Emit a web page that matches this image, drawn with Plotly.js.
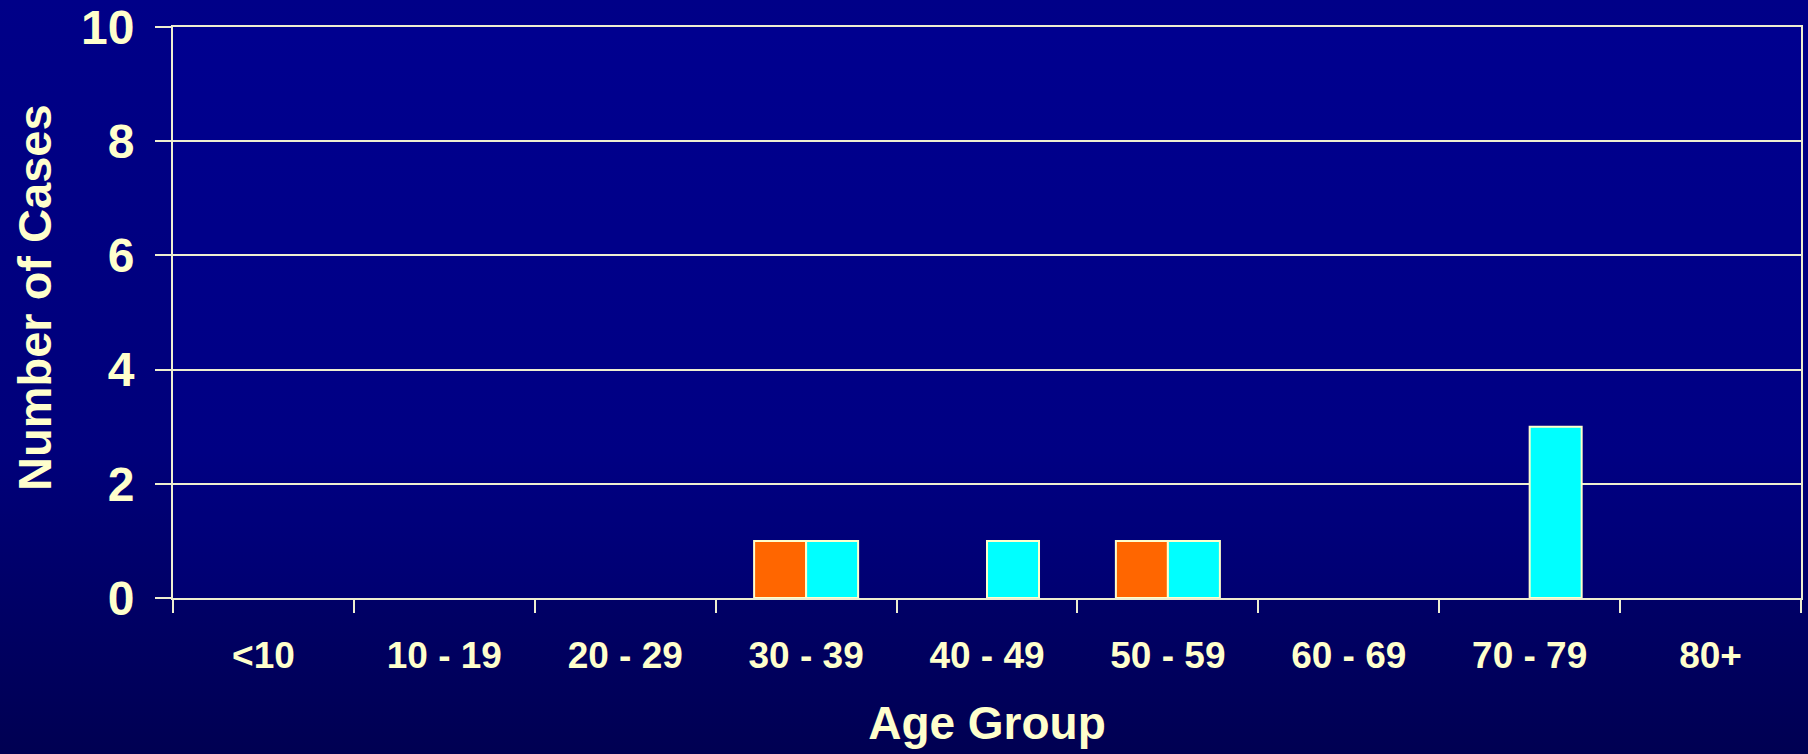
<!DOCTYPE html>
<html>
<head>
<meta charset="utf-8">
<script src="https://cdn.plot.ly/plotly-3.0.1.min.js"></script>
<style>
  html, body { margin: 0; padding: 0; width: 1808px; height: 754px; overflow: hidden; }
  body { background: linear-gradient(to bottom, #000088 0%, #00007a 60%, #000052 100%); }
  #chart { width: 1808px; height: 754px; }
</style>
</head>
<body>
<div id="chart"></div>
<script>
const ageGroups = ['<10', '10 - 19', '20 - 29', '30 - 39', '40 - 49', '50 - 59', '60 - 69', '70 - 79', '80+'];
const seriesOrange = [0, 0, 0, 1, 0, 1, 0, 0, 0];
const seriesCyan = [0, 0, 0, 1, 1, 1, 0, 3, 0];
const yTicks = [0, 2, 4, 6, 8, 10];

const cream = '#FFFFCC';
const lineCol = '#EEEED0';
const outline = v => v.map(val => (val > 0 ? 2 : 0));

const traces = [
  { type: 'bar', x: ageGroups, y: seriesOrange, name: 'Series 1',
    marker: { color: '#FF6600', line: { color: cream, width: outline(seriesOrange) } } },
  { type: 'bar', x: ageGroups, y: seriesCyan, name: 'Series 2',
    marker: { color: '#00FFFF', line: { color: cream, width: outline(seriesCyan) } } }
];

// helpers converting page pixels to plot-area paper fractions (for the rotated title)
function py(px) { return (598 - px) / 571; }
function pxx(px) { return (px - 173) / 1628; }

const layout = {
  width: 1808, height: 754,
  paper_bgcolor: 'rgba(0,0,0,0)',
  plot_bgcolor: 'rgba(0,0,255,0.07)',
  margin: { l: 173, r: 7, t: 27, b: 156 },
  showlegend: false,
  barmode: 'group',
  bargap: 0.425,
  bargroupgap: 0,
  font: { family: 'Liberation Sans, Arial, sans-serif', color: cream, weight: 700 },
  annotations: [{
    text: 'Number of Cases', textangle: -90, showarrow: false,
    xref: 'paper', yref: 'paper', x: pxx(34), y: py(298),
    xanchor: 'center', yanchor: 'middle',
    font: { size: 47, color: cream, weight: 700 }
  }],
  xaxis: {
    type: 'category',
    tickson: 'boundaries',
    ticks: 'outside', ticklen: 13, tickwidth: 2, tickcolor: lineCol,
    showline: true, linecolor: lineCol, linewidth: 2, mirror: true,
    showgrid: false,
    tickfont: { size: 37, color: cream, weight: 700 },
    ticklabelstandoff: 24,
    title: { text: 'Age Group', font: { size: 46, color: cream, weight: 700 }, standoff: 31 },
    automargin: false
  },
  yaxis: {
    range: [0, 10],
    tickvals: yTicks,
    ticktext: yTicks.map(String),
    ticks: 'outside', ticklen: 16, tickwidth: 2, tickcolor: lineCol,
    showline: true, linecolor: lineCol, linewidth: 2, mirror: true,
    showgrid: true, gridcolor: lineCol, gridwidth: 2,
    zeroline: false,
    tickfont: { size: 48, color: cream, weight: 700 },
    ticklabelstandoff: 11,
    automargin: false
  }
};

Plotly.newPlot('chart', traces, layout, { displayModeBar: false, staticPlot: true });
</script>
</body>
</html>
